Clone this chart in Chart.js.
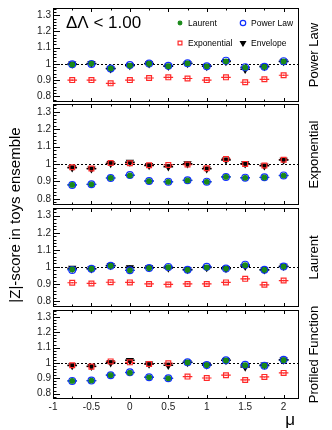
<!DOCTYPE html>
<html>
<head>
<meta charset="utf-8">
<script src="https://cdn.jsdelivr.net/npm/chart.js@4/dist/chart.umd.min.js"></script>
<style>
  html, body { margin: 0; padding: 0; background: #fff; }
  #wrap { position: relative; width: 332px; height: 430px; }
  #wrap canvas { position: absolute; left: 0; top: 0; }
</style>
</head>
<body>
<div id="wrap">
  <canvas id="p1" width="332" height="430"></canvas>
  <canvas id="p2" width="332" height="430"></canvas>
  <canvas id="p3" width="332" height="430"></canvas>
  <canvas id="p4" width="332" height="430"></canvas>
</div>
<script>
// Data
const muValues = [-0.75, -0.5, -0.25, 0, 0.25, 0.5, 0.75, 1, 1.25, 1.5, 1.75, 2];
const yTicks = [0.8, 0.9, 1, 1.1, 1.2, 1.3];
const xTicks = [-1, -0.5, 0, 0.5, 1, 1.5, 2];

// truth: Power Law
const plLaurent = [0.996, 1.002, 0.972, 0.990, 1.001, 0.986, 1.003, 0.985, 1.016, 0.978, 0.982, 1.015];
const plPowerLaw = [0.998, 1.000, 0.972, 0.993, 1.002, 0.988, 1.004, 0.986, 1.020, 0.980, 0.982, 1.017];
const plExponential = [0.900, 0.900, 0.880, 0.900, 0.913, 0.917, 0.910, 0.900, 0.917, 0.887, 0.905, 0.930];
const plEnvelope = [1.000, 1.003, 0.970, 0.990, 1.002, 0.986, 1.003, 0.985, 1.015, 0.967, 0.985, 1.015];

// truth: Exponential
const exLaurent = [0.880, 0.884, 0.920, 0.935, 0.902, 0.898, 0.906, 0.898, 0.926, 0.921, 0.923, 0.934];
const exPowerLaw = [0.880, 0.884, 0.920, 0.937, 0.903, 0.899, 0.907, 0.899, 0.926, 0.922, 0.924, 0.935];
const exExponential = [0.982, 0.975, 1.006, 1.005, 0.993, 0.995, 0.997, 0.976, 1.029, 1.001, 0.992, 1.025];
const exEnvelope = [0.979, 0.973, 1.004, 1.011, 0.992, 0.985, 1.002, 0.973, 1.024, 1.002, 0.990, 1.023];

// truth: Laurent
const laLaurent = [0.985, 0.989, 1.006, 0.980, 0.993, 0.998, 0.983, 0.997, 0.990, 1.010, 0.983, 1.002];
const laPowerLaw = [0.982, 0.989, 1.007, 0.980, 0.993, 1.000, 0.983, 1.001, 0.990, 1.013, 0.983, 1.002];
const laExponential = [0.907, 0.903, 0.910, 0.909, 0.900, 0.897, 0.900, 0.900, 0.909, 0.930, 0.895, 0.920];
const laEnvelope = [0.992, 0.989, 1.008, 0.996, 0.996, 0.994, 0.985, 0.996, 0.991, 1.004, 0.983, 1.004];

// truth: Profiled Function
const pfLaurent = [0.883, 0.885, 0.920, 0.936, 0.906, 0.900, 1.003, 0.986, 1.016, 0.985, 0.982, 1.018];
const pfPowerLaw = [0.883, 0.885, 0.920, 0.939, 0.907, 0.900, 1.004, 0.987, 1.017, 0.988, 0.982, 1.020];
const pfExponential = [0.985, 0.976, 1.010, 1.004, 0.993, 0.998, 0.911, 0.902, 0.920, 0.889, 0.909, 0.935];
const pfEnvelope = [0.983, 0.978, 1.002, 1.017, 0.993, 0.985, 1.004, 0.987, 1.017, 0.974, 0.987, 1.020];

const binHalfWidth = 0.0625;
const fitErr = 0.005;
const envelopeErr = 0.012;

const FONT = '"Liberation Sans", Arial, sans-serif';
const GREEN = '#1a8a1a';
const BLUE = '#1030ff';
const RED = '#ff2a2a';

const toPoints = (values) => values.map((y, i) => ({ x: muValues[i], y }));

const seriesStyle = {
    laurent: { label: 'Laurent', pointStyle: 'circle', radius: 2.3, bg: GREEN, color: GREEN, rotation: 0, err: fitErr },
    powerLaw: { label: 'Power Law', pointStyle: 'circle', radius: 3.4, bg: 'rgba(0,0,0,0)', color: BLUE, rotation: 0, err: fitErr },
    exponential: { label: 'Exponential', pointStyle: 'rect', radius: 3.4, bg: 'rgba(0,0,0,0)', color: RED, rotation: 0, err: fitErr },
    envelope: { label: 'Envelope', pointStyle: 'triangle', radius: 3.6, bg: '#000', color: '#000', rotation: 180, err: envelopeErr },
};

const makeDataset = (key, values) => {
    const s = seriesStyle[key];
    return {
        label: s.label,
        data: toPoints(values),
        pointStyle: s.pointStyle,
        pointRadius: s.radius,
        pointHoverRadius: s.radius,
        pointRotation: s.rotation,
        backgroundColor: s.bg,
        borderColor: s.color,
        borderWidth: 1.2,
        yErr: s.err,
        showLine: false,
    };
};

const drawRotated = (ctx, text, x, y, size) => {
    ctx.save();
    ctx.translate(x, y);
    ctx.rotate(-Math.PI / 2);
    ctx.font = `${size}px ${FONT}`;
    ctx.fillStyle = '#000';
    ctx.textAlign = 'center';
    ctx.textBaseline = 'middle';
    ctx.fillText(text, 0, 0);
    ctx.restore();
};

const rootPad = {
    id: 'rootPad',
    beforeDatasetsDraw(chart) {
        const { ctx, chartArea: a, scales: { x, y } } = chart;
        ctx.save();
        // dotted line at 1
        ctx.strokeStyle = '#000';
        ctx.lineWidth = 1;
        ctx.setLineDash([2, 2]);
        ctx.beginPath();
        ctx.moveTo(a.left, Math.round(y.getPixelForValue(1)) + 0.5);
        ctx.lineTo(a.right, Math.round(y.getPixelForValue(1)) + 0.5);
        ctx.stroke();
        ctx.setLineDash([]);
        // error bars
        chart.data.datasets.forEach((ds) => {
            ctx.strokeStyle = ds.borderColor;
            ctx.lineWidth = ds.yErr > fitErr ? 1.5 : 1.2;
            ds.data.forEach((p) => {
                const px = x.getPixelForValue(p.x);
                const py = y.getPixelForValue(p.y);
                ctx.beginPath();
                ctx.moveTo(x.getPixelForValue(p.x - binHalfWidth), py);
                ctx.lineTo(x.getPixelForValue(p.x + binHalfWidth), py);
                ctx.moveTo(px, y.getPixelForValue(p.y - ds.yErr));
                ctx.lineTo(px, y.getPixelForValue(p.y + ds.yErr));
                ctx.stroke();
            });
        });
        ctx.restore();
    },
    afterDatasetsDraw(chart, args, opts) {
        const { ctx, chartArea: a, scales: { x, y } } = chart;
        ctx.save();
        ctx.strokeStyle = '#000';
        ctx.lineWidth = 1;
        ctx.strokeRect(a.left + 0.5, a.top + 0.5, a.right - a.left - 1, a.bottom - a.top - 1);

        // y ticks
        ctx.beginPath();
        for (let v = 0.78; v <= 1.341; v += 0.02) {
            const py = Math.round(y.getPixelForValue(v)) + 0.5;
            const major = yTicks.some((t) => Math.abs(t - v) < 1e-6);
            ctx.moveTo(a.left, py);
            ctx.lineTo(a.left + (major ? 7 : 3.5), py);
        }
        // x ticks, top and bottom
        for (let v = -1; v <= 2.2001; v += 0.25) {
            const px = Math.round(x.getPixelForValue(v)) + 0.5;
            const major = Math.abs(v * 2 - Math.round(v * 2)) < 1e-6;
            const len = major ? 4 : 2.5;
            ctx.moveTo(px, a.bottom);
            ctx.lineTo(px, a.bottom - len);
            ctx.moveTo(px, a.top);
            ctx.lineTo(px, a.top + len);
        }
        ctx.stroke();

        ctx.fillStyle = '#222';
        ctx.font = `10px ${FONT}`;
        ctx.textAlign = 'right';
        ctx.textBaseline = 'middle';
        yTicks.forEach((t) => ctx.fillText(String(t), a.left - 2, y.getPixelForValue(t)));

        if (opts.xLabels) {
            ctx.textAlign = 'center';
            ctx.textBaseline = 'top';
            xTicks.forEach((t) => ctx.fillText(String(t), x.getPixelForValue(t), a.bottom + 3));
            ctx.fillStyle = '#000';
            ctx.font = `17px ${FONT}`;
            ctx.textAlign = 'right';
            ctx.fillText('μ', a.right - 4, a.bottom + 13);
            drawRotated(ctx, '|Z|-score in toys ensemble', 16, 215, 15);
        }

        drawRotated(ctx, opts.title, 314, (a.top + a.bottom) / 2, 13);

        if (opts.legend) {
            ctx.fillStyle = '#000';
            ctx.font = `17px ${FONT}`;
            ctx.textAlign = 'left';
            ctx.textBaseline = 'middle';
            ctx.fillText('ΔΛ < 1.00', 66, 23);
            const items = [
                ['laurent', 180, 23], ['powerLaw', 243, 23],
                ['exponential', 180, 43], ['envelope', 243, 43],
            ];
            items.forEach(([key, lx, ly]) => {
                const s = seriesStyle[key];
                ctx.fillStyle = s.bg;
                ctx.strokeStyle = s.color;
                ctx.lineWidth = 1.2;
                Chart.helpers.drawPoint(ctx, { pointStyle: s.pointStyle, radius: s.radius * 0.8, rotation: s.rotation, borderWidth: 1.2 }, lx, ly);
                ctx.fillStyle = '#000';
                ctx.font = `8.5px ${FONT}`;
                ctx.fillText(s.label, lx + 8, ly + 0.5);
            });
        }
        ctx.restore();
    },
};

const buildPanel = (id, series, top, bottom, opts) => {
    const ctx = document.getElementById(id).getContext('2d');
    // eslint-disable-next-line no-new
    new Chart(ctx, {
        type: 'scatter',
        data: {
            datasets: [
                makeDataset('exponential', series[2]),
                makeDataset('laurent', series[0]),
                makeDataset('powerLaw', series[1]),
                makeDataset('envelope', series[3]),
            ],
        },
        options: {
            responsive: false,
            animation: false,
            devicePixelRatio: 1,
            events: [],
            layout: { padding: { left: 53, right: 33, top, bottom: 430 - bottom } },
            scales: {
                x: { type: 'linear', min: -1, max: 2.2, display: false },
                y: { type: 'linear', min: 0.765, max: 1.345, display: false },
            },
            plugins: {
                legend: { display: false },
                tooltip: { enabled: false },
                rootPad: opts,
            },
        },
        plugins: [rootPad],
    });
};

buildPanel('p1', [plLaurent, plPowerLaw, plExponential, plEnvelope], 8, 102, { title: 'Power Law', legend: true });
buildPanel('p2', [exLaurent, exPowerLaw, exExponential, exEnvelope], 104, 205, { title: 'Exponential' });
buildPanel('p3', [laLaurent, laPowerLaw, laExponential, laEnvelope], 208, 307, { title: 'Laurent' });
buildPanel('p4', [pfLaurent, pfPowerLaw, pfExponential, pfEnvelope], 310, 399, { title: 'Profiled Function', xLabels: true });
</script>
</body>
</html>
